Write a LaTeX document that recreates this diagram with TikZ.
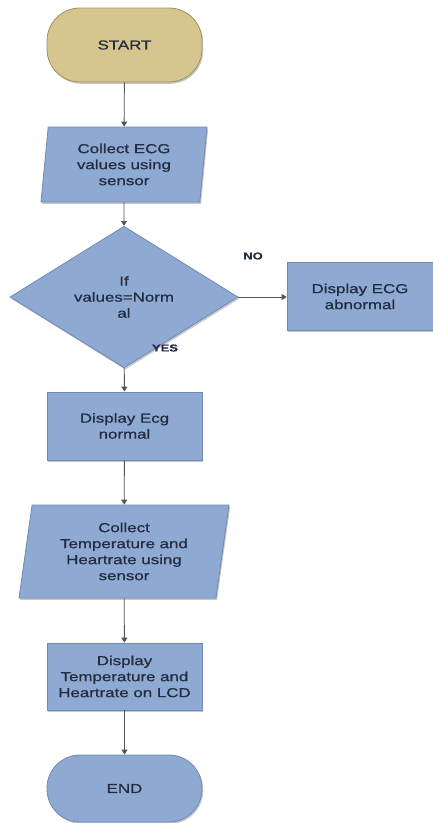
\documentclass[tikz,border=0pt]{standalone}
\usepackage{fontspec}
\setmainfont{Liberation Sans}[FakeStretch=1.3,FakeBold=0.8]
\usetikzlibrary{shapes.geometric,shadows,arrows.meta}
\definecolor{bluefill}{RGB}{143,170,210}
\definecolor{blueline}{RGB}{112,138,180}
\definecolor{tanfill}{RGB}{214,197,142}
\definecolor{tanline}{RGB}{160,145,95}
\definecolor{txtcol}{RGB}{36,44,66}
\definecolor{arrcol}{RGB}{85,85,85}
\tikzset{
  base/.style={font=\fontsize{13}{16}\selectfont, text=txtcol, align=center, inner sep=2pt,
    drop shadow={shadow xshift=1.2pt, shadow yshift=-1.8pt, fill=black, opacity=0.22}},
  bluebox/.style={base, rectangle, fill=bluefill, draw=blueline, line width=0.8pt},
  terminal/.style={base, rectangle, rounded corners=33pt, line width=0.8pt},
  iobox/.style={base, trapezium, trapezium stretches body=true, fill=bluefill, draw=blueline, line width=0.8pt},
  decision/.style={base, diamond, fill=bluefill, draw=blueline, line width=0.8pt, inner sep=0pt},
  flow/.style={draw=arrcol, line width=0.9pt, -{Triangle[width=6pt,length=5pt]}},
  lbl/.style={font=\fontsize{10}{12}\selectfont\bfseries, text=txtcol}
}
\begin{document}
\begin{tikzpicture}[x=1pt,y=-1pt]
\useasboundingbox (0,0) rectangle (433,823);
\fill[white] (0,0) rectangle (433,823);
\node[terminal, fill=tanfill, draw=tanline, minimum width=155, minimum height=74] (start) at (124.5,45) {START};
\node[iobox, trapezium left angle=81, trapezium right angle=99, minimum width=166, minimum height=75] (c1) at (124,164.5) {Collect ECG\\values using\\sensor};
\node[decision, minimum width=228, minimum height=100] (dec) at (124,297) {If\\values=Norm\\al};
\node[bluebox, minimum width=146, minimum height=68] (abn) at (360,296.5) {Display ECG\\abnormal};
\node[bluebox, minimum width=155, minimum height=68] (norm) at (124.5,426) {Display Ecg\\normal};
\node[iobox, trapezium left angle=78, trapezium right angle=102, minimum width=210, minimum height=93] (c2) at (124,551.5) {Collect\\Temperature and\\Heartrate using\\sensor};
\node[bluebox, minimum width=155, minimum height=67] (lcd) at (124.5,676.5) {Display\\Temperature and\\Heartrate on LCD};
\node[terminal, fill=bluefill, draw=blueline, minimum width=155, minimum height=67] (end) at (124.5,788.5) {END};
\draw[flow] (start) -- (c1);
\draw[flow] (c1) -- (dec);
\draw[flow] (dec.east) -- (abn.west |- dec.east);
\draw[flow] (dec) -- (norm);
\draw[flow] (norm) -- (c2);
\draw[flow] (c2) -- (lcd);
\draw[flow] (lcd) -- (end);
\node[lbl] (no) at (253,256) {NO};
\node[lbl] (yes) at (165,348) {YES};
\end{tikzpicture}
\end{document}
